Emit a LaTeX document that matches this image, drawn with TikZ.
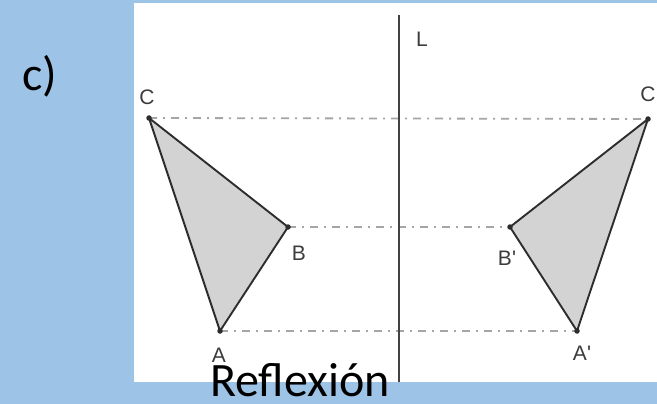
\documentclass[tikz,border=0pt]{standalone}
\usepackage{fontspec}
\setmainfont{Carlito}
\newfontfamily\lblfont{Liberation Sans}
\definecolor{bgblue}{RGB}{157,195,230}
\definecolor{edgegray}{RGB}{45,45,45}
\definecolor{trigray}{RGB}{211,211,211}
\definecolor{ddgray}{RGB}{165,165,165}
\definecolor{lblgray}{RGB}{60,60,60}
\tikzset{
  vdot/.style={circle,fill=edgegray,inner sep=0pt,minimum size=5.5pt},
  triedge/.style={draw=edgegray,line width=1.9pt,line join=round},
  trifill/.style={fill=trigray},
  ddline/.style={draw=ddgray,line width=1.8pt,dash pattern=on 8pt off 6pt on 2pt off 6pt},
  mirror/.style={draw=edgegray!90,line width=1.9pt},
  lbl/.style={font=\lblfont\fontsize{21}{24}\selectfont,text=lblgray,inner sep=0pt},
  bigtxt/.style={font=\fontsize{48}{54}\selectfont,text=black,inner sep=0pt}
}
\begin{document}
\begin{tikzpicture}[x=1pt,y=-1pt]
\useasboundingbox (0,0) rectangle (657,404);
\fill[bgblue] (0,0) rectangle (657,404);
\fill[white] (134,3) rectangle (657,382);
% vertices
\coordinate (A) at (220,331);
\coordinate (B) at (288,227);
\coordinate (C) at (149,118);
\coordinate (Ap) at (577,331);
\coordinate (Bp) at (510,227);
\coordinate (Cp) at (648,119);
\coordinate (Ltop) at (399,15);
\coordinate (Lbot) at (399,382);
% dash-dot lines
\draw[ddline] (C) -- (Cp);
\draw[ddline] (B) -- (Bp);
\draw[ddline] (A) -- (Ap);
% mirror line
\draw[mirror] (Ltop) -- (Lbot);
% triangles
\fill[trifill] (A) -- (B) -- (C) -- cycle;
\fill[trifill] (Ap) -- (Bp) -- (Cp) -- cycle;
\draw[triedge] (A) -- (B) -- (C) -- cycle;
\draw[triedge] (Ap) -- (Bp) -- (Cp) -- cycle;
\node[vdot] (dA) at (A) {};
\node[vdot] (dB) at (B) {};
\node[vdot] (dC) at (C) {};
\node[vdot] (dAp) at (Ap) {};
\node[vdot] (dBp) at (Bp) {};
\node[vdot] (dCp) at (Cp) {};
% labels
\node[lbl] (lC) at (147,97) {C};
\node[lbl] (lB) at (299,253) {B};
\node[lbl] (lA) at (219,355) {A};
\node[lbl] (lCp) at (648,94) {C};
\node[lbl] (lBp) at (507,258) {B'};
\node[lbl] (lAp) at (582,353) {A'};
\node[lbl] (lL) at (422,39) {L};
% texts
\node[bigtxt,anchor=base west] (tc) at (22,91) {c)};
\node[bigtxt,anchor=base west] (tr) at (210,396) {Reflexión};
\end{tikzpicture}
\end{document}
